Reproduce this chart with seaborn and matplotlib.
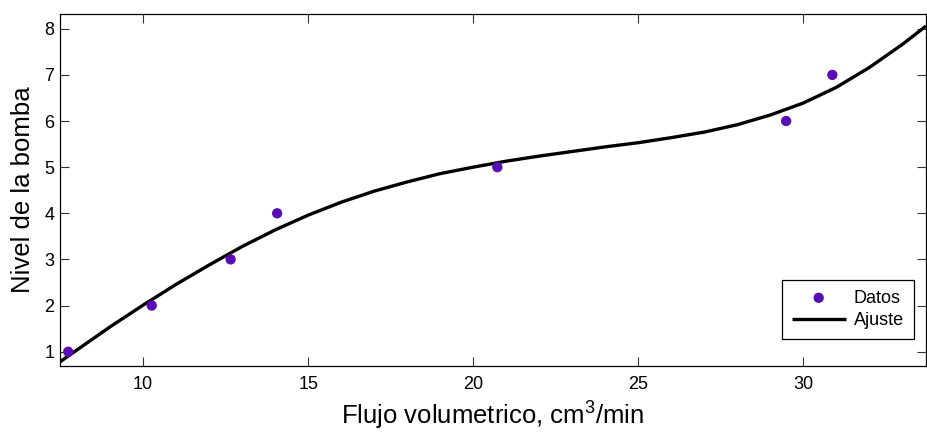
import matplotlib
matplotlib.use("Agg")
import matplotlib.pyplot as plt
import seaborn as sns
import pandas as pd

# Measured pump data
flujo = [7.73, 10.26, 12.65, 14.06, 20.73, 29.48, 30.88]
nivel = [1, 2, 3, 4, 5, 6, 7]

# Fitted curve
ajuste_x = [7.48, 8, 9, 10, 11, 12, 13, 14, 15, 16, 17, 18, 19, 20, 21, 22,
            23, 24, 25, 26, 27, 28, 29, 30, 31, 32, 33, 33.72]
ajuste_y = [0.78, 1.04, 1.54, 2.01, 2.46, 2.88, 3.28, 3.64, 3.96, 4.24, 4.48,
            4.68, 4.86, 5.00, 5.13, 5.24, 5.34, 5.44, 5.53, 5.64, 5.76, 5.92,
            6.13, 6.39, 6.73, 7.16, 7.66, 8.06]

x_ticks = [10, 15, 20, 25, 30]
y_ticks = [1, 2, 3, 4, 5, 6, 7, 8]

datos = pd.DataFrame({"Flujo": flujo, "Nivel": nivel})
curva = pd.DataFrame({"Flujo": ajuste_x, "Nivel": ajuste_y})

sns.set_style("ticks")
plt.rcParams["font.family"] = ["Liberation Sans", "DejaVu Sans"]
plt.rcParams["mathtext.default"] = "regular"
plt.rcParams["text.color"] = "black"
plt.rcParams["axes.labelcolor"] = "black"
plt.rcParams["xtick.labelcolor"] = "black"
plt.rcParams["ytick.labelcolor"] = "black"

fig = plt.figure(figsize=(9.27, 4.32), dpi=100)
ax = fig.add_axes([0.0647, 0.1528, 0.9343, 0.8148])

sns.scatterplot(x="Flujo", y="Nivel", data=datos, ax=ax, color="#5A0DB4",
                s=55, edgecolor="none", label="Datos", zorder=3)
sns.lineplot(x="Flujo", y="Nivel", data=curva, ax=ax, color="black",
             linewidth=2.4, label="Ajuste", sort=False,
             solid_joinstyle="round", solid_capstyle="butt")

ax.set_xlim(7.48, 33.72)
ax.set_ylim(0.69, 8.32)
ax.set_xticks(x_ticks)
ax.set_yticks(y_ticks)
ax.tick_params(direction="in", length=6.5, width=0.8, labelsize=13,
               top=True, right=True, color="#333333", labelcolor="black")
ax.tick_params(axis="x", pad=7)
ax.tick_params(axis="y", pad=4)
for sp in ax.spines.values():
    sp.set_linewidth(0.9)
    sp.set_color("black")

ax.set_xlabel("Flujo volumetrico, cm$^3$/min", fontsize=18.5, labelpad=5)
ax.set_ylabel("Nivel de la bomba", fontsize=18.5, labelpad=7)

leg = ax.legend(loc="lower right", bbox_to_anchor=(0.986, 0.077),
                fontsize=13, frameon=True, fancybox=False, framealpha=1,
                edgecolor="black", handlelength=3.0, borderpad=0.55,
                labelspacing=0.3, handletextpad=0.45, borderaxespad=0)
leg.get_frame().set_linewidth(0.9)

fig.savefig("out.png", dpi=100)
